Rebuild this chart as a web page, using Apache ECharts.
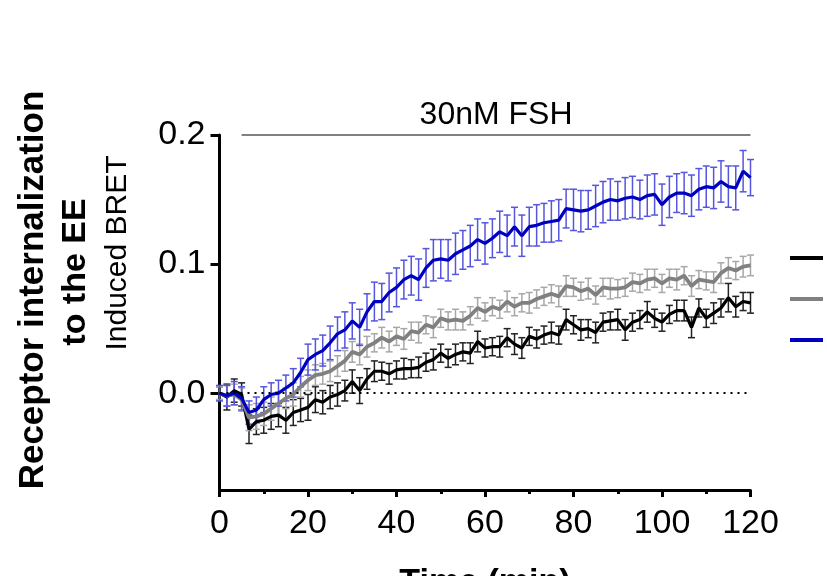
<!DOCTYPE html>
<html>
<head>
<meta charset="utf-8">
<script src="https://cdn.jsdelivr.net/npm/echarts@6/dist/echarts.min.js"></script>
<style>html,body{margin:0;padding:0;background:#fff}#c{width:827px;height:576px}</style>
</head>
<body>
<div id="c"></div>
<script>
const times = [0,1.67,3.33,5,6.67,8.33,10,11.67,13.33,15,16.67,18.33,20,21.67,23.33,25,26.67,28.33,30,31.67,33.33,35,36.67,38.33,40,41.67,43.33,45,46.67,48.33,50,51.67,53.33,55,56.67,58.33,60,61.67,63.33,65,66.67,68.33,70,71.67,73.33,75,76.67,78.33,80,81.67,83.33,85,86.67,88.33,90,91.67,93.33,95,96.67,98.33,100,101.67,103.33,105,106.67,108.33,110,111.67,113.33,115,116.67,118.33,120];

const seriesNames = ['Condition 1','Condition 2','Condition 3'];

const blackVals = [0.000,-0.003,0.002,-0.001,-0.028,-0.022,-0.021,-0.018,-0.017,-0.021,-0.015,-0.013,-0.011,
-0.005,-0.007,-0.003,-0.001,0.002,0.009,
0.002,0.011,0.017,0.017,0.015,0.018,
0.019,0.019,0.020,0.024,0.026,0.031,
0.027,0.030,0.032,0.031,0.040,0.035,
0.036,0.036,0.043,0.038,0.035,0.044,
0.042,0.045,0.047,0.045,0.057,0.053,
0.049,0.050,0.047,0.055,0.056,0.057,
0.049,0.055,0.057,0.063,0.058,0.055,
0.061,0.064,0.064,0.051,0.066,0.058,
0.062,0.066,0.074,0.067,0.071,0.070];

const grayVals = [0.000,-0.002,-0.001,-0.005,-0.019,-0.018,-0.016,-0.012,-0.008,-0.004,-0.001,0.005,0.010,
0.014,0.015,0.017,0.021,0.025,0.032,
0.030,0.036,0.039,0.043,0.040,0.044,
0.042,0.048,0.047,0.053,0.051,0.058,
0.056,0.057,0.056,0.060,0.066,0.063,
0.067,0.065,0.071,0.067,0.070,0.070,
0.073,0.075,0.077,0.075,0.083,0.082,
0.079,0.081,0.076,0.082,0.081,0.081,
0.082,0.086,0.085,0.088,0.089,0.085,
0.089,0.088,0.091,0.083,0.088,0.087,
0.086,0.093,0.097,0.095,0.098,0.099];

const blueVals = [0.000,-0.002,0.000,-0.004,-0.015,-0.013,-0.005,-0.001,0.000,0.004,0.008,0.016,0.026,
0.030,0.033,0.039,0.046,0.049,0.056,
0.051,0.063,0.071,0.071,0.078,0.082,
0.088,0.091,0.088,0.097,0.103,0.104,
0.103,0.108,0.111,0.114,0.119,0.116,
0.120,0.125,0.122,0.129,0.122,0.129,
0.130,0.132,0.133,0.134,0.143,0.142,
0.141,0.142,0.145,0.148,0.150,0.149,
0.151,0.152,0.150,0.153,0.154,0.146,
0.152,0.155,0.155,0.153,0.158,0.160,
0.159,0.164,0.160,0.159,0.172,0.167];

const blackErr = [0.005,0.010,0.009,0.009,0.011,0.010,0.010,0.010,0.009,0.010,0.010,0.009,0.010,
0.010,0.009,0.009,0.009,0.008,0.009,
0.010,0.008,0.008,0.007,0.008,0.007,
0.008,0.007,0.008,0.007,0.008,0.007,
0.007,0.008,0.007,0.008,0.008,0.007,
0.007,0.008,0.007,0.008,0.008,0.007,
0.007,0.007,0.008,0.007,0.008,0.007,
0.008,0.007,0.008,0.007,0.007,0.008,
0.008,0.007,0.007,0.008,0.007,0.007,
0.007,0.008,0.008,0.008,0.007,0.007,
0.008,0.007,0.011,0.008,0.007,0.008];

const grayErr = [0.005,0.008,0.008,0.009,0.010,0.010,0.009,0.009,0.009,0.008,0.009,0.008,0.008,
0.008,0.008,0.008,0.008,0.008,0.008,
0.008,0.008,0.007,0.008,0.008,0.007,
0.008,0.007,0.008,0.007,0.008,0.007,
0.007,0.008,0.007,0.007,0.008,0.007,
0.007,0.007,0.008,0.007,0.007,0.008,
0.007,0.007,0.007,0.008,0.008,0.007,
0.007,0.008,0.007,0.007,0.008,0.007,
0.007,0.007,0.007,0.008,0.007,0.007,
0.007,0.008,0.007,0.008,0.007,0.007,
0.008,0.008,0.008,0.007,0.008,0.008];

const blueErr = [0.006,0.008,0.009,0.009,0.009,0.010,0.010,0.009,0.010,0.010,0.011,0.011,0.012,
0.012,0.012,0.013,0.013,0.014,0.014,
0.014,0.014,0.015,0.014,0.015,0.015,
0.015,0.015,0.016,0.015,0.016,0.015,
0.016,0.016,0.015,0.016,0.016,0.016,
0.015,0.016,0.016,0.015,0.016,0.015,
0.016,0.015,0.016,0.016,0.015,0.016,
0.016,0.015,0.016,0.016,0.016,0.015,
0.016,0.016,0.015,0.016,0.016,0.016,
0.016,0.015,0.016,0.016,0.016,0.016,
0.016,0.016,0.016,0.017,0.016,0.014];

const xTicks = [0,20,40,60,80,100,120];
const yTickLabels = [0, 0.1, 0.2];
const fshLabel = '30nM FSH';
const fshStart = 5, fshEnd = 120, fshLevel = 0.2;

const FONT = '"Liberation Sans", Arial, Helvetica, sans-serif';

function errSeries(vals, errs, color) {
  return {
    type: 'custom',
    silent: true,
    z: 2,
    data: times.map((t, i) => [t, vals[i] - errs[i], vals[i] + errs[i]]),
    encode: { x: 0, y: [1, 2] },
    renderItem: function (params, api) {
      const x = api.value(0);
      const lo = api.coord([x, api.value(1)]);
      const hi = api.coord([x, api.value(2)]);
      const w = 3.5;
      const st = { stroke: color, lineWidth: 1.5 };
      return {
        type: 'group',
        children: [
          { type: 'line', shape: { x1: lo[0], y1: lo[1], x2: hi[0], y2: hi[1] }, style: st },
          { type: 'line', shape: { x1: lo[0] - w, y1: lo[1], x2: lo[0] + w, y2: lo[1] }, style: st },
          { type: 'line', shape: { x1: hi[0] - w, y1: hi[1], x2: hi[0] + w, y2: hi[1] }, style: st }
        ]
      };
    }
  };
}

function lineSeries(name, vals, color, width) {
  return {
    name: name,
    type: 'line',
    z: 3,
    symbol: 'none',
    color: color,
    data: times.map((t, i) => [t, vals[i]]),
    lineStyle: { color: color, width: width },
    itemStyle: { color: color }
  };
}

const chart = echarts.init(document.getElementById('c'), null, { renderer: 'canvas' });

const black = lineSeries(seriesNames[0], blackVals, '#000000', 3.2);
const gray = lineSeries(seriesNames[1], grayVals, '#808080', 3.8);
const blue = lineSeries(seriesNames[2], blueVals, '#0000c0', 3.2);

black.markLine = {
  silent: true,
  symbol: 'none',
  data: [{ yAxis: 0 }],
  lineStyle: { color: '#000', width: 2, type: [2, 5] },
  label: { show: false }
};
gray.markLine = {
  silent: true,
  symbol: 'none',
  data: [[{ coord: [fshStart, fshLevel] }, { coord: [fshEnd, fshLevel] }]],
  lineStyle: { color: '#808080', width: 2, type: 'solid' },
  label: { show: true, position: 'middle', formatter: fshLabel, color: '#000', fontSize: 32, fontFamily: FONT, distance: 4 }
};

function legendAt(name, top) {
  return {
    data: [name],
    orient: 'vertical',
    left: 790,
    top: top,
    padding: 0,
    itemWidth: 33,
    itemHeight: 4,
    icon: 'rect',
    selectedMode: false,
    formatter: function () { return ''; },
    textStyle: { fontSize: 4 }
  };
}

const option = {
  backgroundColor: '#ffffff',
  animation: false,
  grid: { left: 219.5, right: 76.5, top: 135, bottom: 86, containLabel: false, outerBoundsMode: 'none' },
  legend: [legendAt(seriesNames[0], 256), legendAt(seriesNames[1], 297), legendAt(seriesNames[2], 338)],
  xAxis: {
    type: 'value',
    min: 0, max: 120, interval: 20,
    name: 'Time (min)',
    nameLocation: 'middle',
    nameGap: 76,
    nameTextStyle: { fontSize: 34, fontWeight: 'bold', color: '#000', fontFamily: FONT },
    axisLine: { show: true, onZero: false, lineStyle: { color: '#000', width: 3 } },
    axisTick: { show: true, length: 7, lineStyle: { color: '#000', width: 3 } },
    minorTick: { show: true, splitNumber: 2, length: 4, lineStyle: { color: '#000', width: 3 } },
    axisLabel: { fontSize: 34, color: '#000', margin: 17, fontFamily: FONT, formatter: v => (xTicks.indexOf(v) >= 0 ? String(v) : '') },
    splitLine: { show: false }
  },
  yAxis: {
    type: 'value',
    min: -0.075, max: 0.2,
    axisLine: { show: true, onZero: false, lineStyle: { color: '#000', width: 3 } },
    axisTick: { show: true, length: 9, lineStyle: { color: '#000', width: 3 }, customValues: yTickLabels },
    axisLabel: { fontSize: 34, color: '#000', margin: 14, fontFamily: FONT, customValues: yTickLabels, formatter: v => Number(v).toFixed(1) },
    splitLine: { show: false }
  },
  graphic: [
    { type: 'text', x: 33, y: 290, rotation: Math.PI / 2, style: { text: 'Receptor internalization', font: 'bold 35px ' + FONT, fill: '#000', align: 'center', verticalAlign: 'middle', textAlign: 'center', textVerticalAlign: 'middle' } },
    { type: 'text', x: 76, y: 272, rotation: Math.PI / 2, style: { text: 'to the EE', font: 'bold 34px ' + FONT, fill: '#000', align: 'center', verticalAlign: 'middle', textAlign: 'center', textVerticalAlign: 'middle' } },
    { type: 'text', x: 118, y: 253, rotation: Math.PI / 2, style: { text: 'Induced BRET', font: '30px ' + FONT, fill: '#000', align: 'center', verticalAlign: 'middle', textAlign: 'center', textVerticalAlign: 'middle' } }
  ],
  series: [
    errSeries(blackVals, blackErr, '#222222'),
    black,
    errSeries(grayVals, grayErr, '#a8a8a8'),
    gray,
    errSeries(blueVals, blueErr, '#5555dd'),
    blue
  ]
};

chart.setOption(option);
</script>
</body>
</html>
